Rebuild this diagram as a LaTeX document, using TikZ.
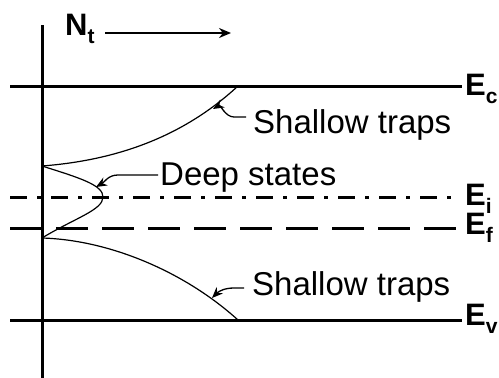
\documentclass[tikz,border=0pt]{standalone}
\usepackage{fontspec}
\setmainfont{Liberation Sans}
\usetikzlibrary{arrows.meta}
\tikzset{
  thickline/.style={line width=3pt},
  thinline/.style={line width=1.2pt},
  lbl/.style={inner sep=0pt, anchor=base west, font=\fontsize{33}{36}\selectfont},
  elbl/.style={inner sep=0pt, anchor=base west, font=\bfseries\fontsize{31}{36}\selectfont},
  ptr/.style={line width=1.3pt, -{Stealth[length=11pt,width=9pt]}},
}
\newcommand{\subl}[1]{\raisebox{-8pt}{\fontsize{21}{21}\selectfont #1}}
\begin{document}
\begin{tikzpicture}[x=1pt,y=-1pt]
\useasboundingbox (0,0) rectangle (499,378);
% axis
\coordinate (axtop) at (42,25);
\coordinate (axbot) at (42,380);
\draw[thickline] (axtop) -- (axbot);
% energy levels
\coordinate (ecl) at (10,86);  \coordinate (ecr) at (462,86);
\coordinate (eil) at (10,197); \coordinate (eir) at (458,197);
\coordinate (efl) at (10,228); \coordinate (efr) at (460,228);
\coordinate (evl) at (10,320); \coordinate (evr) at (462,320);
\draw[thickline] (ecl) -- (ecr);
\draw[thickline] (evl) -- (evr);
\draw[thickline, dash pattern=on 17pt off 10pt on 4pt off 10pt] (eil) -- (eir);
\draw[thickline, dash pattern=on 32pt off 14pt] (efl) -- (efr);
% labels
\node[elbl] (Ec) at (465,95) {E\subl{c}};
\node[elbl] (Ei) at (465,205) {E\subl{i}};
\node[elbl] (Ef) at (465,234) {E\subl{f}};
\node[elbl] (Ev) at (465,325) {E\subl{v}};
\node[elbl] (Nt) at (65,35) {N\subl{t}};
\coordinate (nta) at (105,33);
\coordinate (ntb) at (231,33);
\draw[line width=2pt, -{Stealth[length=12pt,width=10pt]}] (nta) -- (ntb);
% curves
\coordinate (p1) at (42,166);
\coordinate (p2) at (238,86);
\coordinate (p3) at (103,197);
\coordinate (p4) at (42,238);
\coordinate (p5) at (238,320);
\draw[thinline] (p1) .. controls (120,160) and (185,135) .. (p2);
\draw[thinline] (p1) .. controls (80,178) and (103,185) .. (p3)
                     .. controls (103,210) and (75,218) .. (p4);
\draw[thinline] (p4) .. controls (110,240) and (185,272) .. (p5);
% text labels
\node[lbl] (st1) at (253,133) {Shallow traps};
\node[lbl] (ds) at (160,185) {Deep states};
\node[lbl] (st2) at (252,295) {Shallow traps};
% pointers
\coordinate (a1t) at (246,117);
\coordinate (a1h) at (213,109);
\draw[ptr] (a1t) -- (234,117) to[out=180,in=30] (a1h);
\coordinate (a2t) at (158,175);
\coordinate (a2h) at (96,187);
\draw[ptr] (a2t) -- (118,175) to[out=180,in=30] (a2h);
\coordinate (a3t) at (244,288);
\coordinate (a3h) at (212,298);
\draw[ptr] (a3t) -- (234,288) to[out=180,in=45] (a3h);
\end{tikzpicture}
\end{document}
